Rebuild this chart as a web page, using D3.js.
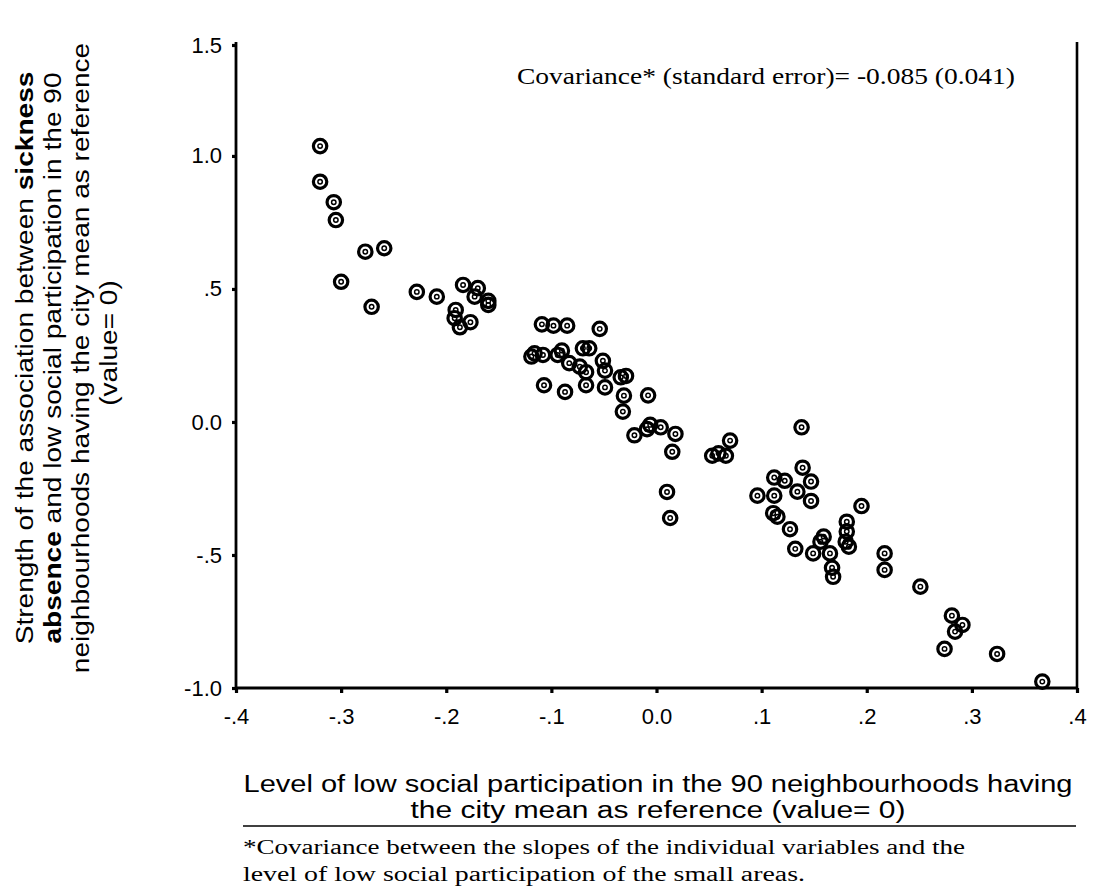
<!DOCTYPE html>
<html><head><meta charset="utf-8">
<script src="https://cdn.jsdelivr.net/npm/d3@7"></script>
<style>
html,body{margin:0;padding:0;background:#fff;}
svg{display:block;}
</style></head>
<body>
<svg id="chart" width="1095" height="891"></svg>
<script>
// ---- data ----
const xValues = [
 -0.320,-0.320,-0.307,-0.305,-0.277,-0.259,-0.300,-0.271,-0.228,-0.209,-0.184,-0.170,-0.173,-0.160,-0.160,-0.191,-0.192,-0.187,-0.177,
 -0.109,-0.098,-0.085,-0.054,
 -0.119,-0.116,-0.108,-0.094,-0.090,-0.083,-0.073,-0.070,-0.064,-0.067,-0.051,-0.049,
 -0.107,-0.087,-0.067,-0.049,
 -0.034,-0.029,-0.031,-0.008,-0.032,
 -0.006,-0.009,0.004,-0.021,0.018,0.015,0.070,0.053,0.059,0.066,
 0.010,0.013,
 0.138,0.139,0.112,0.122,0.147,0.096,0.112,0.134,0.147,0.195,0.111,0.115,0.127,0.132,0.149,0.159,0.156,0.165,0.167,0.168,0.181,0.181,0.180,0.183,0.217,0.217,0.251,
 0.281,0.291,0.284,0.274,0.324,0.367
];
const yValues = [
 1.037,0.903,0.826,0.759,0.640,0.653,0.527,0.433,0.489,0.471,0.515,0.503,0.471,0.455,0.440,0.421,0.390,0.356,0.375,
 0.367,0.362,0.362,0.350,
 0.246,0.258,0.252,0.252,0.268,0.221,0.208,0.277,0.277,0.187,0.230,0.193,
 0.138,0.113,0.138,0.130,
 0.168,0.173,0.099,0.100,0.039,
 -0.011,-0.027,-0.020,-0.050,-0.045,-0.112,-0.070,-0.127,-0.118,-0.127,
 -0.263,-0.361,
 -0.020,-0.172,-0.209,-0.221,-0.224,-0.277,-0.277,-0.262,-0.297,-0.316,-0.343,-0.356,-0.403,-0.477,-0.494,-0.431,-0.450,-0.494,-0.548,-0.582,-0.375,-0.412,-0.450,-0.469,-0.494,-0.556,-0.619,
 -0.728,-0.763,-0.788,-0.853,-0.872,-0.976
];
const xTickValues = [-0.4,-0.3,-0.2,-0.1,0,0.1,0.2,0.3,0.4];
const xTickLabels = ["-.4","-.3","-.2","-.1","0.0",".1",".2",".3",".4"];
const yTickValues = [-1,-0.5,0,0.5,1,1.417];
const yTickLabels = ["-1.0","-.5","0.0",".5","1.0","1.5"];
const xDomain = [-0.4,0.4];
const yDomain = [-1,1.417];
const annotation = "Covariance* (standard error)= -0.085 (0.041)";
const xTitle = ["Level of low social participation in the 90 neighbourhoods having","the city mean as reference (value= 0)"];
const footnote = ["*Covariance between the slopes of the individual variables and the","level of low social participation of the small areas."];

// ---- drawing ----
const svg = d3.select("#chart");
const L = 236, R = 1077, T = 45, B = 688;
const x = d3.scaleLinear().domain(xDomain).range([L,R]);
const y = d3.scaleLinear().domain(yDomain).range([B,T]);
const sans = "'Liberation Sans', Arial, Helvetica, sans-serif";
const serif = "'Liberation Serif', 'Times New Roman', serif";

// axes
const xAxis = d3.axisBottom(x).tickValues(xTickValues).tickSize(5)
  .tickFormat((d,i)=>xTickLabels[i]).tickPadding(15);
const gx = svg.append("g").attr("transform",`translate(0,${B})`).call(xAxis);
gx.select(".domain").attr("stroke","#000").attr("stroke-width",2.8).attr("d",`M${L},0H${R}`);
gx.selectAll(".tick line").attr("stroke","#000").attr("stroke-width",3.2);
gx.selectAll(".tick text").attr("font-family",sans).attr("font-size",22).attr("fill","#000");

const yAxis = d3.axisLeft(y).tickValues(yTickValues).tickSize(4)
  .tickFormat((d,i)=>yTickLabels[i]).tickPadding(10);
const gy = svg.append("g").attr("transform",`translate(${L},0)`).call(yAxis);
gy.select(".domain").attr("stroke","#000").attr("stroke-width",2.8).attr("d",`M0,${T-3}V${B}`);
gy.selectAll(".tick line").attr("stroke","#000").attr("stroke-width",3.2);
gy.selectAll(".tick text").attr("font-family",sans).attr("font-size",22).attr("fill","#000");

// right border
svg.append("line").attr("x1",R).attr("x2",R).attr("y1",T-3).attr("y2",B+1)
  .attr("stroke","#000").attr("stroke-width",2.6);

// points
const pts = d3.range(xValues.length).map(i=>({x:xValues[i],y:yValues[i]}));
const gp = svg.append("g");
const pg = gp.selectAll("g").data(pts).join("g")
  .attr("transform",d=>`translate(${x(d.x)},${y(d.y)})`);
pg.append("circle").attr("r",6.7).attr("fill","none").attr("stroke","#000").attr("stroke-width",3.2);
pg.append("circle").attr("r",2.2).attr("fill","none").attr("stroke","#000").attr("stroke-width",1.5);

// annotation
svg.append("text").attr("x",766).attr("y",84).attr("text-anchor","middle")
  .attr("font-family",serif).attr("font-size",23).attr("fill","#000")
  .attr("textLength",498).attr("lengthAdjust","spacingAndGlyphs").text(annotation);

// y title (rotated, stretched along text direction)
const sx = 1.17;
const ycx = 358;
const ytitle = svg.append("text").attr("transform",`rotate(-90) scale(${sx},1)`)
  .attr("font-family",sans).attr("font-size",24).attr("fill","#000").attr("text-anchor","middle");
const l1 = ytitle.append("tspan").attr("x",-ycx/sx).attr("y",33);
l1.append("tspan").text("Strength of the association between ");
l1.append("tspan").attr("font-weight","bold").text("sickness");
const l2 = ytitle.append("tspan").attr("x",-ycx/sx).attr("y",61);
l2.append("tspan").attr("font-weight","bold").text("absence");
l2.append("tspan").text(" and low social participation in the 90");
ytitle.append("tspan").attr("x",-ycx/sx).attr("y",89).text("neighbourhoods having the city mean as reference");
ytitle.append("tspan").attr("x",-343/sx).attr("y",117).text("(value= 0)");

// x title
const xTitleLen = [829, 495];
xTitle.forEach((t,i)=>{
  svg.append("text").attr("x",658).attr("y",792+i*26).attr("text-anchor","middle")
    .attr("font-family",sans).attr("font-size",23).attr("fill","#000")
    .attr("textLength",xTitleLen[i]).attr("lengthAdjust","spacingAndGlyphs").text(t);
});
svg.append("line").attr("x1",243).attr("x2",1076).attr("y1",826).attr("y2",826)
  .attr("stroke","#000").attr("stroke-width",1.6);
const footLen = [722, 562];
footnote.forEach((t,i)=>{
  svg.append("text").attr("x",243).attr("y",854+i*27).attr("text-anchor","start")
    .attr("font-family",serif).attr("font-size",20.5).attr("fill","#000")
    .attr("textLength",footLen[i]).attr("lengthAdjust","spacingAndGlyphs").text(t);
});
</script>
</body></html>
